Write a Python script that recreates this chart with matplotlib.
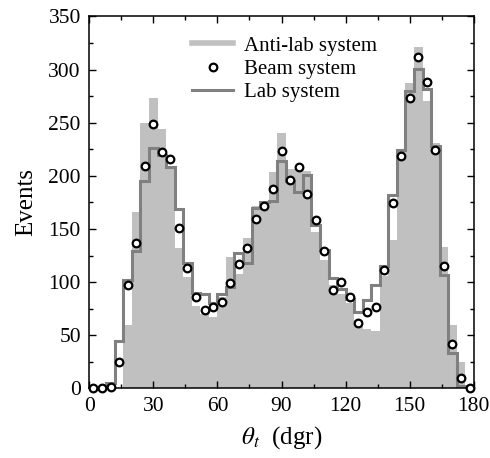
import matplotlib
matplotlib.use("Agg")
import matplotlib.pyplot as plt
from matplotlib.lines import Line2D
from matplotlib.ticker import MultipleLocator
import numpy as np

plt.rcParams['font.family'] = ['Liberation Serif', 'DejaVu Serif']
plt.rcParams['mathtext.fontset'] = 'stix'

# bin edges of theta_t (4 degree bins)
edges = np.arange(0, 181, 4)
centers = edges[:-1] + 2

# anti-lab system (filled histogram)
anti_lab = [0, 0, 0, 0, 60, 166, 250, 273, 244, 208,
            132, 105, 78, 70, 67, 86, 124, 108, 142, 172,
            173, 204, 240, 206, 206, 205, 147, 121, 97, 89,
            80, 64, 56, 54, 106, 140, 222, 287, 321, 270,
            231, 133, 60, 25, 3]

# lab system (step line)
lab = [1, 1, 5, 45, 102, 129, 195, 226, 220, 208,
       169, 118, 90, 89, 80, 89, 95, 127, 118, 170,
       175, 176, 214, 195, 185, 201, 154, 130, 104, 94,
       84, 72, 83, 97, 115, 182, 224, 280, 301, 282,
       228, 107, 33, 2, 0]

# beam system (circles)
beam = [0, 0, 1, 25, 97, 137, 209, 249, 222, 216,
        151, 113, 86, 74, 77, 81, 99, 117, 132, 159,
        172, 188, 223, 196, 208, 183, 158, 129, 93, 100,
        86, 62, 72, 77, 111, 174, 219, 273, 312, 288,
        224, 115, 42, 10, 0]

fig = plt.figure(figsize=(4.9, 4.58), dpi=100)
ax = fig.add_axes([0.182, 0.152, 0.785, 0.812])

ax.bar(edges[:-1], anti_lab, width=4, align='edge', color='#c0c0c0',
       linewidth=0, zorder=1)
ax.stairs(lab, edges, color='#808080', linewidth=2.2, zorder=2)
ax.plot(centers, beam, 'o', markersize=5.5, markerfacecolor='white',
        markeredgecolor='black', markeredgewidth=1.6, zorder=3, clip_on=False)

ax.set_xlim(0, 180)
ax.set_ylim(0, 350)
ax.xaxis.set_major_locator(MultipleLocator(30))
ax.xaxis.set_minor_locator(MultipleLocator(15))
ax.yaxis.set_major_locator(MultipleLocator(50))
ax.yaxis.set_minor_locator(MultipleLocator(25))
ax.tick_params(which='both', direction='in', top=True, right=True,
               labelsize=15.5, width=1, pad=6)
ax.tick_params(which='major', length=5)
ax.tick_params(which='minor', length=3)
for s in ax.spines.values():
    s.set_linewidth(1.1)

ax.set_xlabel(r'$\theta_t$  (dgr)', fontsize=18, labelpad=6)
ax.set_ylabel('Events', fontsize=18, labelpad=8)

handles = [Line2D([], [], color='#c0c0c0', linewidth=4),
           Line2D([], [], linestyle='none', marker='o', markersize=5.5,
                  markerfacecolor='white', markeredgecolor='black',
                  markeredgewidth=1.6),
           Line2D([], [], color='#808080', linewidth=2.2)]
ax.legend(handles, ['Anti-lab system', 'Beam system', 'Lab system'],
          loc='upper left', bbox_to_anchor=(0.245, 0.97), frameon=False,
          fontsize=15, handlelength=2.0, handletextpad=0.5,
          labelspacing=0.18, borderaxespad=0)

fig.savefig('out.png', dpi=100)
